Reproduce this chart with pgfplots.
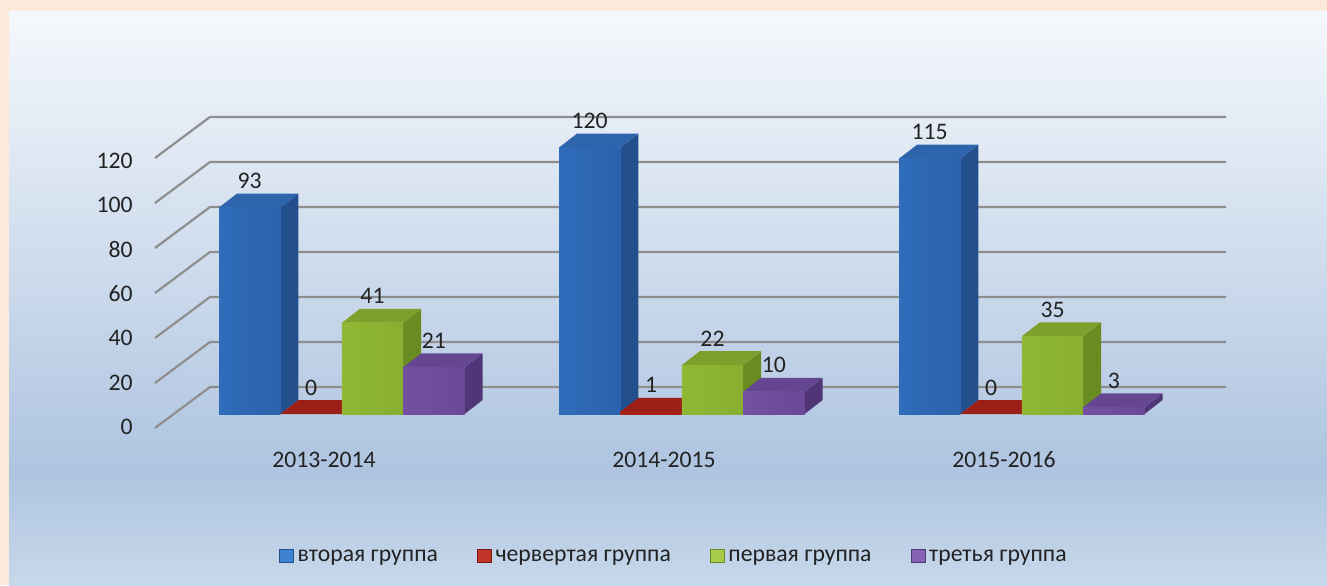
\documentclass[border=0pt]{standalone}
\usepackage{fontspec}
\setmainfont{Carlito}
\usepackage{pgfplots}
\pgfplotsset{compat=1.18}

\definecolor{peach}{HTML}{FDE9D9}
\definecolor{bgtop}{HTML}{F5F8FC}
\definecolor{bgmid}{HTML}{AEC4E0}
\definecolor{bgbot}{HTML}{C7D8EA}
\definecolor{gridc}{HTML}{8E8E8E}
\definecolor{txt}{HTML}{222222}
% blue
\definecolor{bL}{HTML}{2F6CBA}\definecolor{bM}{HTML}{3E82D1}\definecolor{bR}{HTML}{2C62AD}
\definecolor{bS}{HTML}{23508D}\definecolor{bT}{HTML}{2E64AC}
% red
\definecolor{rL}{HTML}{A8221A}\definecolor{rM}{HTML}{C0342A}\definecolor{rR}{HTML}{A01F17}
\definecolor{rS}{HTML}{7A150F}\definecolor{rT}{HTML}{9C1F17}
% green
\definecolor{gL}{HTML}{8FB835}\definecolor{gM}{HTML}{A8CB4B}\definecolor{gR}{HTML}{88AE30}
\definecolor{gS}{HTML}{6A8B22}\definecolor{gT}{HTML}{7E9F2B}
% purple
\definecolor{pL}{HTML}{7350A2}\definecolor{pM}{HTML}{8562B4}\definecolor{pR}{HTML}{6B4899}
\definecolor{pS}{HTML}{503676}\definecolor{pT}{HTML}{654690}

\pgfdeclareverticalshading{panel}{100bp}{color(0bp)=(bgbot); color(25bp)=(bgbot); color(35bp)=(bgmid); color(75bp)=(bgtop); color(100bp)=(bgtop)}

% 3D-looking bar: #1 left edge (px), #2 value, #3 colour prefix
\newcommand\cube[3]{%
  \pgfmathsetmacro\cxr{#1+61.4}%
  \pgfmathsetmacro\cxlp{#1+18}%
  \pgfmathsetmacro\cxrp{#1+79.4}%
  \pgfmathsetmacro\cvt{#2+6.306}%
  \edef\cubetmp{%
    \noexpand\addplot[forget plot, draw=none, fill=#3S] coordinates {(\cxr,0) (\cxr,#2) (\cxrp,\cvt) (\cxrp,6.306)};
    \noexpand\addplot[forget plot, draw=none, fill=#3T] coordinates {(#1,#2) (\cxlp,\cvt) (\cxrp,\cvt) (\cxr,#2)};
  }\cubetmp
  \ifdim #2pt>0pt
    \edef\cubetmp{\noexpand\addplot[forget plot, draw=none, left color=#3L, middle color=#3M, right color=#3R] coordinates {(#1,0) (#1,#2) (\cxr,#2) (\cxr,0)};}\cubetmp
  \fi
}

\begin{document}
\fontsize{11.85}{14}\selectfont
\begin{tikzpicture}
\fill[peach] (0,0) rectangle (663.5pt,292.5pt);
\shade[shading=panel] (4.5pt,0) rectangle (663.5pt,286.5pt);
\begin{axis}[
  at={(0,0)}, anchor=south west,
  scale only axis, width=663.5pt, height=292.5pt,
  xmin=0, xmax=1327, ymin=-77.027, ymax=186.486,
  clip=false,
  axis lines=left, axis line style={draw=none,-},
  major tick length=0pt, tick style={draw=none},
  /pgf/number format/assume math mode=true,
  ytick={0,20,40,60,80,100,120},
  yticklabel style={anchor=east, inner sep=0pt, xshift=66.5pt, yshift=-6.4pt, text=txt},
  xtick={324,664,1004},
  xticklabels={2013-2014,2014-2015,2015-2016},
  xticklabel style={anchor=base, inner sep=0pt, yshift=59pt, text=txt},
  legend columns=4,
  legend style={at={(0.5085,0.048)}, anchor=center, draw=none, fill=none,
    text=txt, column sep=0pt, nodes={inner xsep=2pt, inner ysep=0pt},
    /tikz/every even column/.append style={column sep=17.5pt}},
  legend image code/.code={\fill[#1] (0pt,-2.5pt) rectangle (7pt,3.8pt);},
  nodes near coords style={anchor=base, yshift=9.5pt, text=txt, inner sep=0pt},
]
% grid lines (floor-front diagonal + back wall)
\addplot[forget plot, gridc, line width=1.1pt] coordinates {(155,-6.306) (210,12.162) (1226,12.162)};
\addplot[forget plot, gridc, line width=1.1pt] coordinates {(155,13.964) (210,32.432) (1226,32.432)};
\addplot[forget plot, gridc, line width=1.1pt] coordinates {(155,34.234) (210,52.703) (1226,52.703)};
\addplot[forget plot, gridc, line width=1.1pt] coordinates {(155,54.505) (210,72.973) (1226,72.973)};
\addplot[forget plot, gridc, line width=1.1pt] coordinates {(155,74.775) (210,93.243) (1226,93.243)};
\addplot[forget plot, gridc, line width=1.1pt] coordinates {(155,95.045) (210,113.514) (1226,113.514)};
\addplot[forget plot, gridc, line width=1.1pt] coordinates {(155,115.315) (210,133.784) (1226,133.784)};

% bars: 2013-2014
\cube{219}{93}{b}
\cube{280.4}{0}{r}
\cube{341.8}{41}{g}
\cube{403.2}{21}{p}
% 2014-2015
\cube{559}{120}{b}
\cube{620.4}{1}{r}
\cube{681.8}{22}{g}
\cube{743.2}{10}{p}
% 2015-2016
\cube{899}{115}{b}
\cube{960.4}{0}{r}
\cube{1021.8}{35}{g}
\cube{1083.2}{3}{p}

% value labels
\addplot[forget plot, draw=none, mark=none, nodes near coords] coordinates {(249.7,93) (589.7,120) (929.7,115)};
\addplot[forget plot, draw=none, mark=none, nodes near coords] coordinates {(311.1,0) (651.1,1) (991.1,0)};
\addplot[forget plot, draw=none, mark=none, nodes near coords] coordinates {(372.5,41) (712.5,22) (1052.5,35)};
\addplot[forget plot, draw=none, mark=none, nodes near coords] coordinates {(433.9,21) (773.9,10) (1113.9,3)};

\addlegendimage{fill=bM, draw=bS, line width=0.3pt}
\addlegendentry{вторая группа}
\addlegendimage{fill=rM, draw=rS, line width=0.3pt}
\addlegendentry{червертая группа}
\addlegendimage{fill=gM, draw=gS, line width=0.3pt}
\addlegendentry{первая группа}
\addlegendimage{fill=pM, draw=pS, line width=0.3pt}
\addlegendentry{третья группа}
\end{axis}
\end{tikzpicture}
\end{document}
